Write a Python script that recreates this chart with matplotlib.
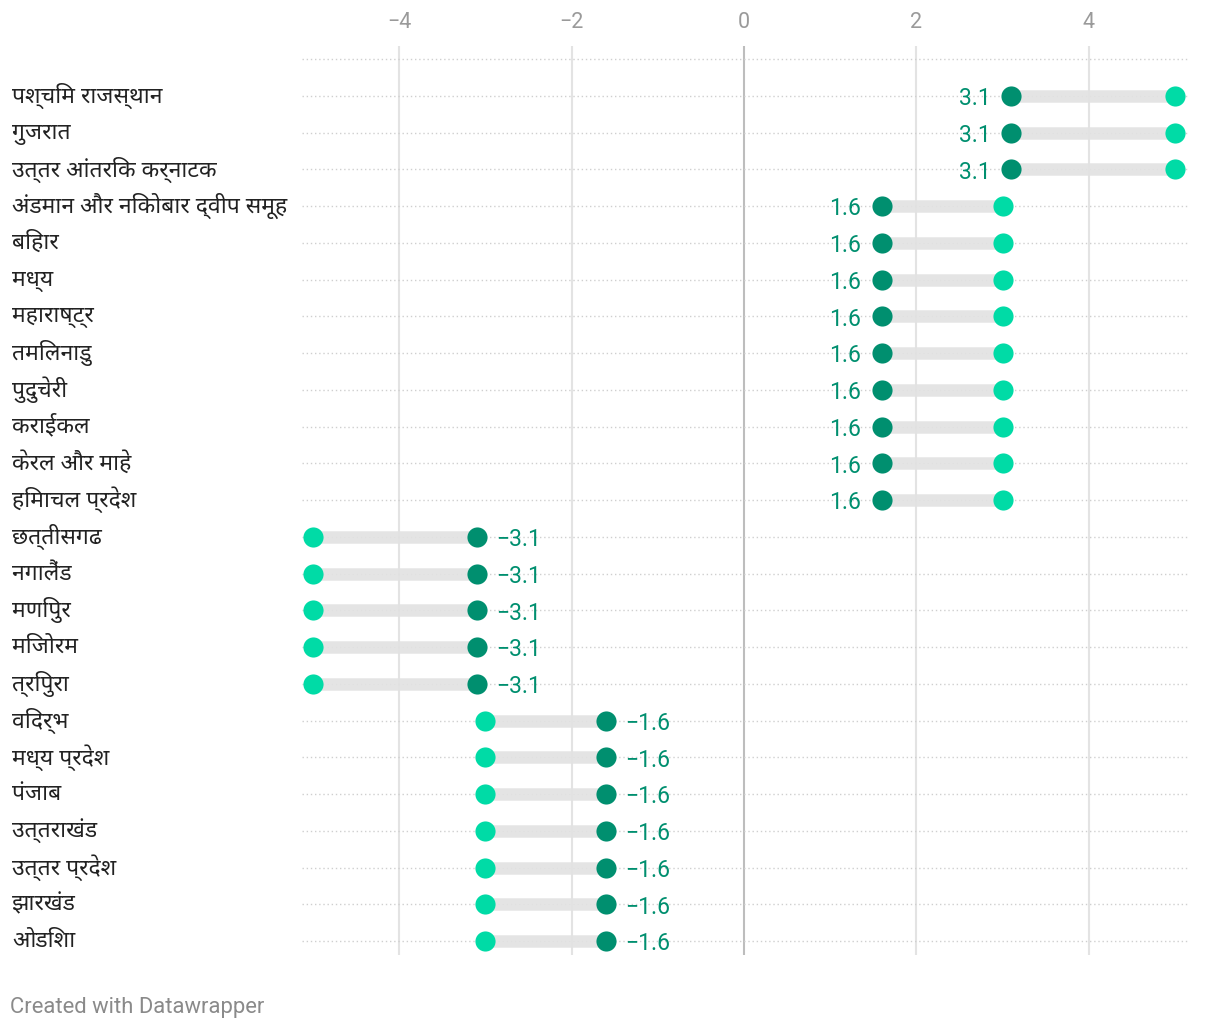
import matplotlib
matplotlib.use("Agg")
import matplotlib.pyplot as plt
import matplotlib.transforms as mtransforms

regions = [
    "पश्चिम राजस्थान", "गुजरात", "उत्तर आंतरिक कर्नाटक",
    "अंडमान और निकोबार द्वीप समूह", "बिहार", "मध्य", "महाराष्ट्र",
    "तमिलनाडु", "पुदुचेरी", "कराईकल", "केरल और माहे", "हिमाचल प्रदेश",
    "छत्तीसगढ", "नगालैंड", "मणिपुर", "मिजोरम", "त्रिपुरा",
    "विदर्भ", "मध्य प्रदेश", "पंजाब", "उत्तराखंड", "उत्तर प्रदेश",
    "झारखंड", "ओडिशा",
]
start_vals = [5.0] * 3 + [3.0] * 9 + [-5.0] * 5 + [-3.0] * 7
end_vals = [3.1] * 3 + [1.6] * 9 + [-3.1] * 5 + [-1.6] * 7
xticks = [-4, -2, 0, 2, 4]

dark = "#008f6f"
light = "#00dba6"
label_fonts = ["Noto Sans Devanagari", "Mukta", "Roboto", "DejaVu Sans"]
num_fonts = ["Roboto", "DejaVu Sans"]

fig = plt.figure(figsize=(12.2, 10.34), dpi=100)
ax = fig.add_axes([302 / 1220, 1 - 955 / 1034, 886 / 1220, 909 / 1034])

n = len(regions)
ys = list(range(n))

# dotted row lines (plus one above the first row)
for y in [-1] + ys:
    ax.axhline(y, color="#cfcfcf", lw=1.0, ls=(0, (1, 2)), zorder=1)

for t in xticks:
    ax.axvline(t, color="#bdbdbd" if t == 0 else "#e3e3e3", lw=1.5, zorder=0.5)

for y, s, e in zip(ys, start_vals, end_vals):
    ax.plot([s, e], [y, y], color="#e2e2e2", lw=9, solid_capstyle="butt", zorder=2, alpha=0.9)
ax.scatter(start_vals, ys, s=14.5 ** 2, color=light, zorder=3, clip_on=False, linewidths=0)
ax.scatter(end_vals, ys, s=14.5 ** 2, color=dark, zorder=4, clip_on=False, linewidths=0)

for y, s, e in zip(ys, start_vals, end_vals):
    txt = ("%.1f" % e).replace("-", "\u2212")
    if e > 0:
        ax.annotate(txt, (e, y), xytext=(-15, -2), textcoords="offset points",
                    ha="right", va="center", color=dark, fontsize=16.5,
                    family=num_fonts)
    else:
        ax.annotate(txt, (e, y), xytext=(14, -2), textcoords="offset points",
                    ha="left", va="center", color=dark, fontsize=16.5,
                    family=num_fonts)

trans = mtransforms.blended_transform_factory(fig.transFigure, ax.transData)
for y, name in zip(ys, regions):
    ax.text(12 / 1220, y, name, transform=trans, ha="left", va="center",
            fontsize=16.5, color="#222222", family=label_fonts)

ax.set_xlim(-5.125, 5.148)
ax.set_ylim(n - 1 + 0.38, -1.36)
ax.set_xticks(xticks)
ax.set_xticklabels([("%d" % t).replace("-", "\u2212") for t in xticks],
                   family=num_fonts, fontsize=15.5, color="#9a9a9a")
ax.xaxis.tick_top()
ax.tick_params(axis="x", length=0, pad=9)
ax.set_yticks([])
for sp in ax.spines.values():
    sp.set_visible(False)

fig.text(10 / 1220, 1 - 1008 / 1034, "Created with Datawrapper", ha="left", va="center",
         fontsize=15.8, color="#8a8a8a", family=num_fonts)

fig.savefig("out.png", dpi=100)
